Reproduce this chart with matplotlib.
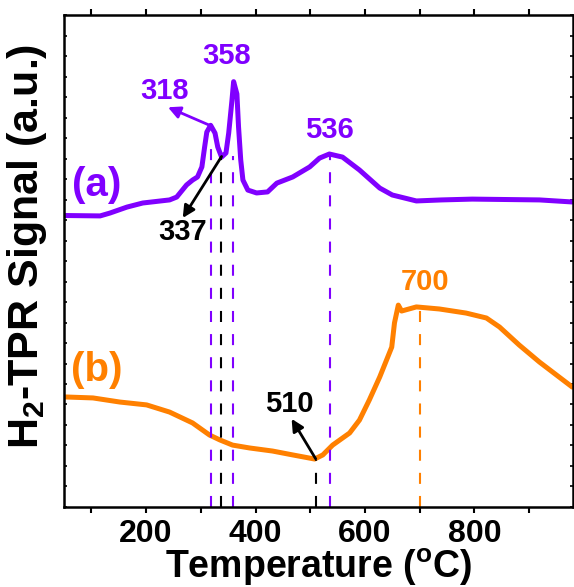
import numpy as np
import matplotlib
matplotlib.use("Agg")
import matplotlib.pyplot as plt
from matplotlib.ticker import MultipleLocator

plt.rcParams['font.family'] = 'Liberation Sans'
plt.rcParams['font.weight'] = 'bold'
plt.rcParams['axes.labelweight'] = 'bold'
plt.rcParams['mathtext.fontset'] = 'custom'
plt.rcParams['mathtext.rm'] = 'Liberation Sans:bold'
plt.rcParams['mathtext.bf'] = 'Liberation Sans:bold'
plt.rcParams['mathtext.it'] = 'Liberation Sans:bold'

PURPLE = '#8000ff'
ORANGE = '#ff8000'

# curve (a)
temp_a = [50, 116, 134, 165, 194, 243, 256, 274, 285, 294, 302, 307, 311, 318,
          326, 331, 338, 346, 351, 357, 360, 366, 369, 373, 377, 386, 402, 422,
          439, 468, 499, 517, 535, 559, 590, 627, 650, 694, 740, 796, 919, 979]
sig_a = [14.22, 14.20, 14.34, 14.63, 14.83, 14.98, 15.12, 15.71, 15.95, 16.10,
         16.59, 17.56, 18.29, 18.62, 18.24, 17.56, 17.07, 17.27, 18.24, 19.85,
         20.75, 20.15, 18.54, 16.93, 15.95, 15.46, 15.32, 15.37, 15.80, 16.10,
         16.59, 17.02, 17.22, 17.07, 16.44, 15.56, 15.22, 14.93, 14.98, 15.02,
         14.98, 14.88]

# curve (b)
temp_b = [50, 103, 152, 201, 243, 285, 316, 335, 358, 389, 431, 468, 508, 523,
          541, 572, 590, 608, 627, 649, 654, 661, 667, 694, 736, 785, 822, 846,
          882, 919, 979]
sig_b = [5.37, 5.32, 5.12, 4.98, 4.63, 4.10, 3.51, 3.27, 3.02, 2.88, 2.73, 2.54,
         2.34, 2.54, 3.02, 3.61, 4.24, 5.22, 6.34, 7.80, 8.98, 9.85, 9.56, 9.76,
         9.66, 9.46, 9.22, 8.78, 7.90, 7.07, 5.85]

# peak markers: position, top of dashed line, colour
peak_pos = [318, 358, 536, 337, 510, 700]
peak_top = [17.6, 17.1, 17.1, 17.1, 2.3, 9.6]
peak_col = [PURPLE, PURPLE, PURPLE, 'black', 'black', ORANGE]

fig = plt.figure(figsize=(5.74, 5.87), dpi=100)
ax = fig.add_axes([0.1115, 0.1363, 0.8865, 0.8381])

ax.plot(temp_a, sig_a, color=PURPLE, lw=3.6, solid_capstyle='round',
        solid_joinstyle='round')
ax.plot(temp_b, sig_b, color=ORANGE, lw=3.6, solid_capstyle='round',
        solid_joinstyle='round')

for p, t, c in zip(peak_pos, peak_top, peak_col):
    ax.vlines(p, 0, t, colors=c, lw=1.5, linestyles=(0, (5.3, 5.8)))

arrow = dict(arrowstyle='-|>', lw=2, mutation_scale=18, shrinkA=0, shrinkB=0)
ax.annotate('', xy=(240, 19.5), xytext=(318, 18.6),
            arrowprops=dict(arrow, color=PURPLE))
ax.text(234, 20.3, '318', color=PURPLE, fontsize=21, ha='center', va='center')
ax.text(347, 22.0, '358', color=PURPLE, fontsize=21, ha='center', va='center')
ax.text(535, 18.4, '536', color=PURPLE, fontsize=21, ha='center', va='center')
ax.annotate('', xy=(267, 14.1), xytext=(338, 17.1),
            arrowprops=dict(arrow, color='black'))
ax.text(267, 13.4, '337', color='black', fontsize=21, ha='center', va='center')
ax.annotate('', xy=(466, 4.3), xytext=(510, 2.35),
            arrowprops=dict(arrow, color='black'))
ax.text(462, 5.0, '510', color='black', fontsize=21, ha='center', va='center')
ax.text(709, 11.0, '700', color=ORANGE, fontsize=21, ha='center', va='center')

ax.text(110, 15.7, '(a)', color=PURPLE, fontsize=29, ha='center', va='center')
ax.text(110, 6.7, '(b)', color=ORANGE, fontsize=29, ha='center', va='center')

ax.set_xlim(50, 980)
ax.set_ylim(0, 24)
ax.xaxis.set_major_locator(MultipleLocator(200))
ax.xaxis.set_minor_locator(MultipleLocator(100))
ax.yaxis.set_major_locator(MultipleLocator(1))
ax.set_yticklabels([])
ax.tick_params(axis='x', which='both', direction='out', length=4, width=1.5,
               labelsize=23, pad=5, top=True)
ax.tick_params(axis='y', which='both', direction='in', length=2, width=1.2,
               right=True)
for s in ax.spines.values():
    s.set_linewidth(1.8)

ax.set_xlabel(r'Temperature ($^\mathbf{o}$C)', fontsize=27, labelpad=-2)
ax.set_ylabel(r'H$_\mathbf{2}$-TPR Signal (a.u.)', fontsize=31, labelpad=4)
ax.yaxis.set_label_coords(-0.03, 0.53)

fig.savefig('out.png', dpi=100)
